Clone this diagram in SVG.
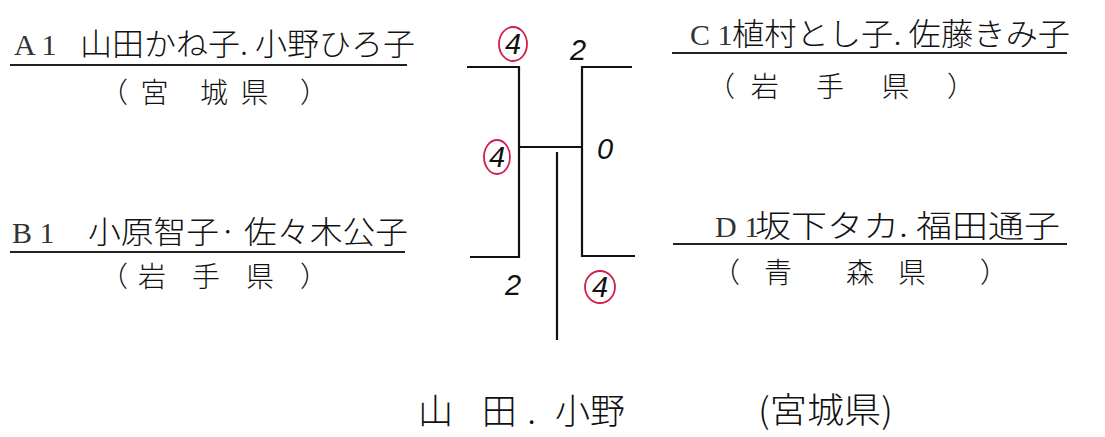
<svg xmlns="http://www.w3.org/2000/svg" width="1105" height="437" viewBox="0 0 1105 437">
<style>
.ser{font-family:"Liberation Serif","Noto Serif CJK JP",serif;font-size:30px;fill:#333}
.hw{font-family:"Noto Sans CJK JP","Noto Sans",sans-serif;font-weight:300;fill:#111}
.nm{font-size:31px}
.pref{font-size:28px}
.win{font-size:35px}
.sc{font-family:"Liberation Sans","DejaVu Sans",sans-serif;font-size:29px;font-style:italic;fill:#111;text-anchor:middle}
.ul{stroke:#222;stroke-width:2;fill:none}
.br{stroke:#111;stroke-width:2.2;fill:none}
.ring{stroke:#d0204a;stroke-width:1.8;fill:none}
</style>
<rect width="1105" height="437" fill="#ffffff"/>
<g id="connectors">
<path class="br" d="M467 67 H519 V257 H470"/>
<path class="br" d="M632 67 H582 V256 H635"/>
<path class="br" d="M520 147 H582"/>
<path class="br" d="M557 152 V340"/>
</g>
<g id="teamA1">
<text class="ser" x="14" y="55">A 1</text>
<text class="hw nm" x="80" y="55" textLength="335" lengthAdjust="spacingAndGlyphs">山田かね子.  小野ひろ子</text>
<line class="ul" x1="10" y1="65" x2="407" y2="65"/>
<text class="hw pref" x="100" y="103" textLength="228" lengthAdjust="spacing">（宮 城県 ）</text>
</g>
<g id="teamB1">
<text class="ser" x="12" y="243">B 1</text>
<text class="hw nm" x="88" y="243" textLength="320" lengthAdjust="spacingAndGlyphs">小原智子· 佐々木公子</text>
<line class="ul" x1="10" y1="252" x2="405" y2="252"/>
<text class="hw pref" x="100" y="287" textLength="228" lengthAdjust="spacing">（岩 手 県 ）</text>
</g>
<g id="teamC1">
<text class="ser" x="690" y="45">C 1</text>
<text class="hw nm" x="732" y="45" textLength="338" lengthAdjust="spacingAndGlyphs">植村とし子. 佐藤きみ子</text>
<line class="ul" x1="672" y1="53" x2="1067" y2="53"/>
<text class="hw pref" x="707" y="97" textLength="268" lengthAdjust="spacing">（岩 手 県 ）</text>
</g>
<g id="teamD1">
<text class="ser" x="715" y="237">D 1</text>
<text class="hw nm" x="755" y="237" textLength="305" lengthAdjust="spacingAndGlyphs">坂下タカ. 福田通子</text>
<line class="ul" x1="673" y1="244" x2="1067" y2="244"/>
<text class="hw pref" x="712" y="283" textLength="296" lengthAdjust="spacing">（青 森県 ）</text>
</g>
<g id="scores">
<text class="sc" x="513" y="54">4</text>
<ellipse class="ring" cx="513" cy="44" rx="14" ry="17"/>
<text class="sc" x="578" y="60">2</text>
<text class="sc" x="497" y="167">4</text>
<ellipse class="ring" cx="497" cy="157" rx="13" ry="17"/>
<text class="sc" x="605" y="159">0</text>
<text class="sc" x="513" y="295">2</text>
<text class="sc" x="600" y="297">4</text>
<ellipse class="ring" cx="600" cy="287" rx="15" ry="16"/>
</g>
<g id="winner">
<text class="hw win" x="418" y="424" textLength="118" lengthAdjust="spacing">山 田.</text>
<text class="hw win" x="555" y="424">小野</text>
<text class="hw win" x="758" y="423" font-size="32" textLength="135" lengthAdjust="spacingAndGlyphs">(宮城県)</text>
</g>
</svg>
